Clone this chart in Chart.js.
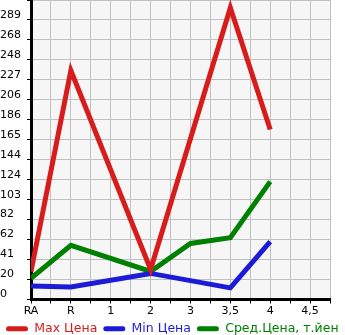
<!DOCTYPE html>
<html>
<head>
<meta charset="utf-8">
<script src="https://cdn.jsdelivr.net/npm/chart.js@4"></script>
<style>
  html, body { margin: 0; padding: 0; background: #fff; }
  #wrap { width: 345px; height: 335px; position: relative; }
</style>
</head>
<body>
<div id="wrap"><canvas id="chart"></canvas></div>
<script>
// категории оси X
const categories = ['RA', 'R', '1', '2', '3', '3,5', '4', '4,5'];
// значения серий (null = нет точки)
const maxPrice = [29, 237, null, 31, null, 302, 176, null];
const minPrice = [14, 13, null, 27, null, 12, 60, null];
const avgPrice = [22, 56, null, 29, 58, 64, 122, null];
const seriesNames = ['Max Цена', 'Min Цена', 'Сред.Цена, т.йен'];
const yMax = 310;
const yStep = 62 / 3;

const colors = ['#d81c1c', '#1c1cd8', '#008000'];

function toPoints(arr) {
  return arr.map((v, i) => ({ x: i, y: v })).filter(p => p.y !== null);
}

// фон области графика
const plotBg = {
  id: 'plotBg',
  beforeDraw(chart) {
    const a = chart.chartArea;
    const ctx = chart.ctx;
    ctx.save();
    ctx.fillStyle = '#f6f6f6';
    ctx.fillRect(a.left, a.top, a.right - a.left, a.bottom - a.top);
    ctx.restore();
  }
};

const ctx = document.getElementById('chart').getContext('2d');
new Chart(ctx, {
  type: 'line',
  data: {
    datasets: [maxPrice, minPrice, avgPrice].map((arr, i) => ({
      label: seriesNames[i],
      data: toPoints(arr),
      borderColor: colors[i],
      backgroundColor: colors[i],
      borderWidth: 5,
      pointRadius: 0,
      tension: 0,
      fill: false
    }))
  },
  options: {
    responsive: true,
    maintainAspectRatio: false,
    animation: false,
    // легенда немного выходит за низ холста
    layout: { padding: { top: 0, right: 0, bottom: -10, left: 0 } },
    scales: {
      x: {
        type: 'linear',
        min: 0,
        max: 7.5,
        border: { color: '#000', width: 3 },
        grid: { color: '#c0c0c0', tickColor: '#000', tickLength: 4, lineWidth: 1 },
        ticks: {
          stepSize: 0.5,
          autoSkip: false,
          maxRotation: 0,
          padding: 1,
          color: '#000',
          font: { family: 'DejaVu Sans', size: 11 },
          callback: v => Number.isInteger(v) ? (categories[v] || '') : ''
        },
        afterFit: s => { s.height = 17; s.paddingLeft = 0; s.paddingRight = 15; }
      },
      y: {
        min: 0,
        max: yMax,
        border: { color: '#000', width: 3 },
        grid: { color: '#c0c0c0', tickColor: '#000', tickLength: 4, lineWidth: 1 },
        ticks: {
          stepSize: yStep,
          padding: 4,
          crossAlign: 'far',
          labelOffset: -5,
          color: '#000',
          font: { family: 'DejaVu Sans', size: 11 },
          callback: v => v >= yMax - 1 ? '' : Math.floor(v + 1e-6)
        },
        afterFit: s => { s.width = 31; s.paddingTop = 0; s.paddingBottom = 0; }
      }
    },
    plugins: {
      tooltip: { enabled: false },
      legend: {
        position: 'bottom',
        align: 'start',
        labels: {
          boxWidth: 22,
          boxHeight: 5,
          padding: 6,
          useBorderRadius: true,
          borderRadius: 2.5,
          font: { family: 'DejaVu Sans', size: 12.5 },
          generateLabels: chart => chart.data.datasets.map((ds, i) => ({
            text: ds.label,
            fillStyle: ds.borderColor,
            strokeStyle: ds.borderColor,
            fontColor: ds.borderColor,
            lineWidth: 0,
            borderRadius: 2.5,
            datasetIndex: i,
            hidden: false
          }))
        }
      }
    }
  },
  plugins: [plotBg]
});
</script>
</body>
</html>
